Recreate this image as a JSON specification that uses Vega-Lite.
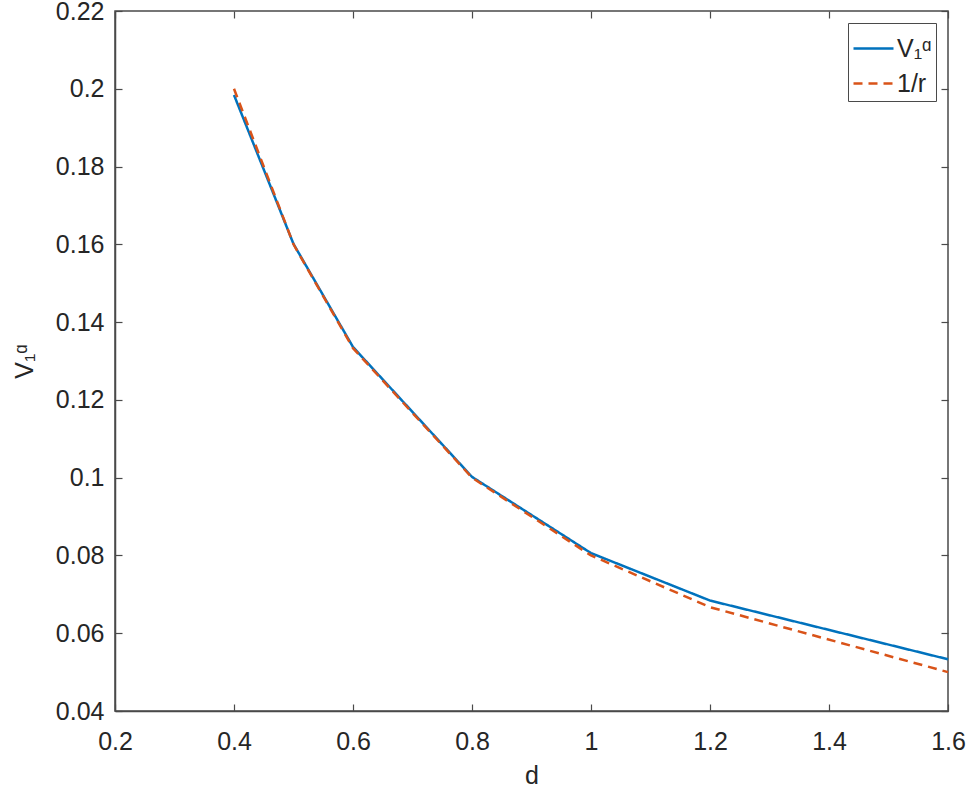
{
  "$schema": "https://vega.github.io/schema/vega-lite/v6.json",
  "width": 833,
  "height": 700,
  "autosize": "none",
  "padding": {"left": 115, "top": 11, "right": 20, "bottom": 78},
  "background": "white",
  "config": {
    "font": "Liberation Sans",
    "view": {"stroke": "#4a4a4a", "strokeWidth": 1.5},
    "axis": {
      "grid": false,
      "domainColor": "#4a4a4a",
      "domainWidth": 1.5,
      "tickColor": "#4a4a4a",
      "tickWidth": 1.2,
      "tickSize": -7,
      "labelFlush": false,
      "labelOverlap": false,
      "labelFont": "Liberation Sans",
      "labelFontSize": 25,
      "labelColor": "#262626",
      "titleFont": "Liberation Sans",
      "titleFontSize": 25,
      "titleFontWeight": "normal",
      "titleColor": "#262626"
    }
  },
  "data": {
    "values": [
      {"d": 0.4, "v": 0.1984, "series": "V1"},
      {"d": 0.5, "v": 0.1601, "series": "V1"},
      {"d": 0.6, "v": 0.1336, "series": "V1"},
      {"d": 0.8, "v": 0.1002, "series": "V1"},
      {"d": 1.0, "v": 0.0806, "series": "V1"},
      {"d": 1.2, "v": 0.0684, "series": "V1"},
      {"d": 1.6, "v": 0.0533, "series": "V1"},
      {"d": 0.4, "v": 0.2, "series": "1/r"},
      {"d": 0.5, "v": 0.16, "series": "1/r"},
      {"d": 0.6, "v": 0.1333, "series": "1/r"},
      {"d": 0.8, "v": 0.1, "series": "1/r"},
      {"d": 1.0, "v": 0.08, "series": "1/r"},
      {"d": 1.2, "v": 0.0667, "series": "1/r"},
      {"d": 1.6, "v": 0.05, "series": "1/r"}
    ]
  },
  "layer": [
    {
      "mark": {"type": "line", "strokeWidth": 2.5},
      "encoding": {
        "x": {
          "field": "d",
          "type": "quantitative",
          "scale": {"domain": [0.2, 1.6], "nice": false, "zero": false},
          "axis": {
            "orient": "bottom",
            "title": "d",
            "values": [0.2, 0.4, 0.6, 0.8, 1, 1.2, 1.4, 1.6],
            "format": "~g",
            "labelPadding": 25,
            "titlePadding": 9
          }
        },
        "y": {
          "field": "v",
          "type": "quantitative",
          "scale": {"domain": [0.04, 0.22], "nice": false, "zero": false},
          "axis": {
            "orient": "left",
            "title": "V₁ᵅ",
            "values": [0.04, 0.06, 0.08, 0.1, 0.12, 0.14, 0.16, 0.18, 0.2, 0.22],
            "format": "~g",
            "labelPadding": 18,
            "titlePadding": 18
          }
        },
        "color": {
          "field": "series",
          "type": "nominal",
          "scale": {"domain": ["V1", "1/r"], "range": ["#0072BD", "#D95319"]},
          "legend": {
            "title": null,
            "orient": "top-right",
            "offset": 12,
            "strokeColor": "#4a4a4a",
            "fillColor": "white",
            "padding": 4,
            "symbolType": "stroke",
            "symbolSize": 1600,
            "symbolStrokeWidth": 2.5,
            "labelFontSize": 25,
            "labelFont": "Liberation Sans",
            "labelColor": "#262626",
            "labelOffset": 2,
            "rowPadding": 0,
            "labelExpr": "datum.label == 'V1' ? 'V₁ᵅ' : datum.label"
          }
        },
        "strokeDash": {
          "field": "series",
          "type": "nominal",
          "scale": {"domain": ["V1", "1/r"], "range": [[1, 0], [9, 6]]},
          "legend": {
            "title": null,
            "orient": "top-right",
            "offset": 12,
            "strokeColor": "#4a4a4a",
            "fillColor": "white",
            "padding": 4,
            "symbolType": "stroke",
            "symbolSize": 1600,
            "symbolStrokeWidth": 2.5,
            "labelFontSize": 25,
            "labelFont": "Liberation Sans",
            "labelColor": "#262626",
            "labelOffset": 2,
            "rowPadding": 0,
            "labelExpr": "datum.label == 'V1' ? 'V₁ᵅ' : datum.label"
          }
        }
      }
    },
    {
      "mark": {"type": "line", "opacity": 0},
      "encoding": {
        "x": {
          "field": "d",
          "type": "quantitative",
          "axis": {
            "orient": "top",
            "title": null,
            "labels": false,
            "domain": false,
            "values": [0.2, 0.4, 0.6, 0.8, 1, 1.2, 1.4, 1.6]
          }
        },
        "y": {
          "field": "v",
          "type": "quantitative",
          "axis": {
            "orient": "right",
            "title": null,
            "labels": false,
            "domain": false,
            "values": [0.04, 0.06, 0.08, 0.1, 0.12, 0.14, 0.16, 0.18, 0.2, 0.22]
          }
        }
      }
    }
  ]
}
